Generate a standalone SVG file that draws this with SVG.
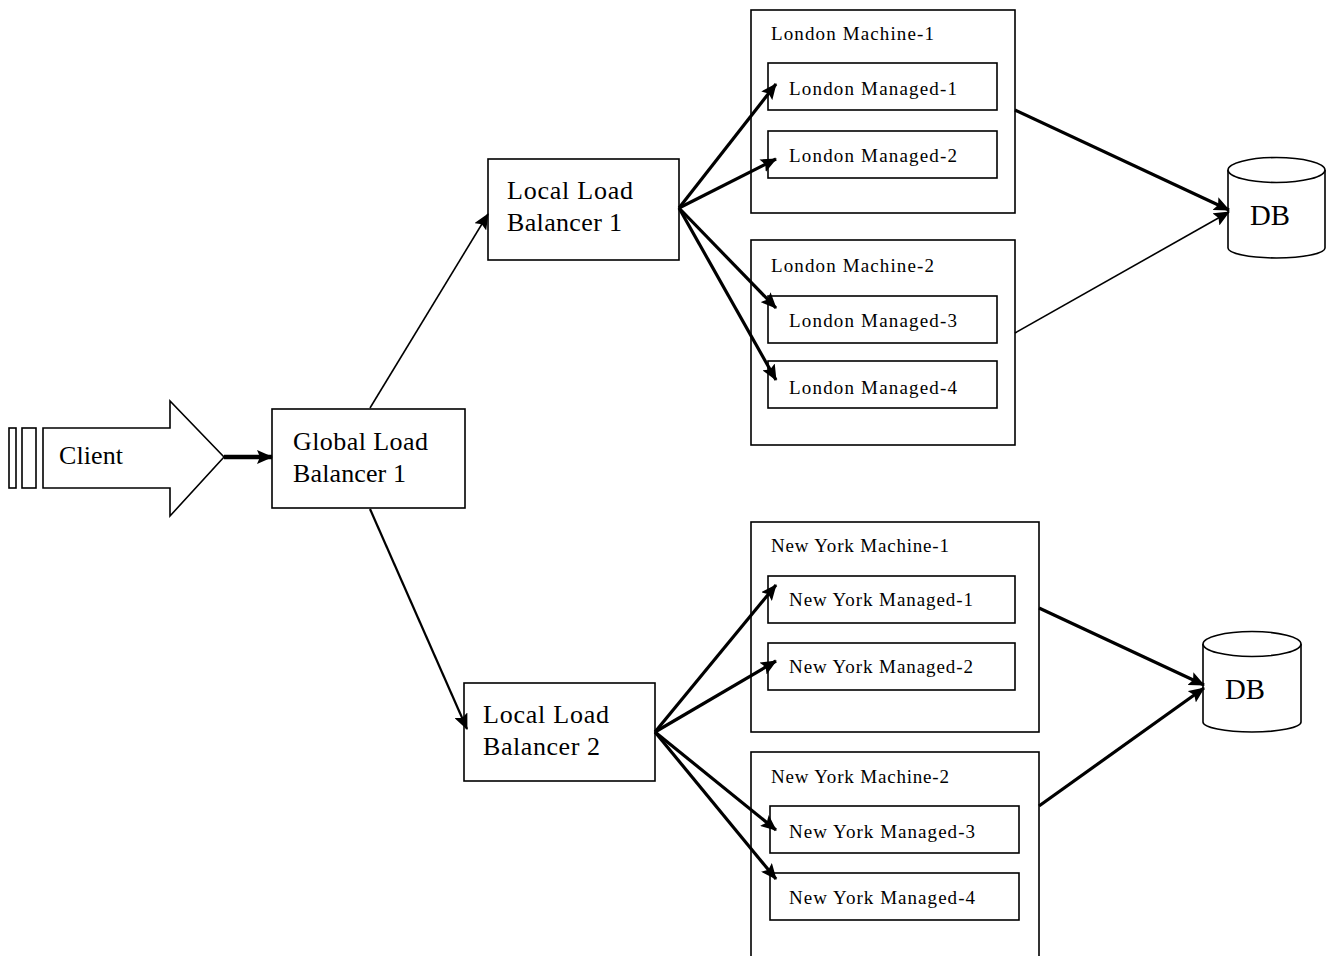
<svg xmlns="http://www.w3.org/2000/svg" width="1328" height="956" viewBox="0 0 1328 956">
<style>
.box{fill:#fff;stroke:#000;stroke-width:1.6}
.big{font-family:"Liberation Serif",serif;font-size:26px;fill:#000}
.db{font-family:"Liberation Serif",serif;font-size:29px;fill:#000}
.sm{font-family:"Liberation Serif",serif;font-size:19px;fill:#000}
.c1{stroke:#000;stroke-width:1.6;fill:none}
.c2{stroke:#000;stroke-width:2.2;fill:none}
.c3{stroke:#000;stroke-width:3.2;fill:none}
.c4{stroke:#000;stroke-width:4.5;fill:none}
</style>
<defs>
<marker id="ah" markerUnits="userSpaceOnUse" markerWidth="16" markerHeight="14" viewBox="0 0 16 14" refX="15" refY="7" orient="auto">
<path d="M0,0 L16,7 L0,14 L3,7 Z" fill="#000"/>
</marker>
</defs>
<rect width="1328" height="956" fill="#fff"/>
<g id="client">
<rect class="box" x="9" y="428" width="7" height="60"/>
<rect class="box" x="22" y="428" width="14" height="60"/>
<polygon class="box" points="43,428 170,428 170,401 224,457 170,516 170,488 43,488"/>
<text class="big" x="59" y="464" textLength="64" lengthAdjust="spacing">Client</text>
</g>
<g id="glb">
<rect class="box" x="272" y="409" width="193" height="99"/>
<text class="big" x="293" y="450" textLength="135" lengthAdjust="spacing">Global Load</text>
<text class="big" x="293" y="482" textLength="113" lengthAdjust="spacing">Balancer 1</text>
</g>
<g id="llb1">
<rect class="box" x="488" y="159" width="191" height="101"/>
<text class="big" x="507" y="199" textLength="126" lengthAdjust="spacing">Local Load</text>
<text class="big" x="507" y="231" textLength="115" lengthAdjust="spacing">Balancer 1</text>
</g>
<g id="llb2">
<rect class="box" x="464" y="683" width="191" height="98"/>
<text class="big" x="483" y="723" textLength="126" lengthAdjust="spacing">Local Load</text>
<text class="big" x="483" y="755" textLength="117" lengthAdjust="spacing">Balancer 2</text>
</g>
<g id="london-machine-1">
<rect class="box" x="751" y="10" width="264" height="203"/>
<text class="sm" x="771" y="40" textLength="163" lengthAdjust="spacing">London Machine-1</text>
</g>
<g id="london-managed-1">
<rect class="box" x="768" y="63" width="229" height="47"/>
<text class="sm" x="789" y="95" textLength="168" lengthAdjust="spacing">London Managed-1</text>
</g>
<g id="london-managed-2">
<rect class="box" x="768" y="131" width="229" height="47"/>
<text class="sm" x="789" y="162" textLength="168" lengthAdjust="spacing">London Managed-2</text>
</g>
<g id="london-machine-2">
<rect class="box" x="751" y="240" width="264" height="205"/>
<text class="sm" x="771" y="272" textLength="163" lengthAdjust="spacing">London Machine-2</text>
</g>
<g id="london-managed-3">
<rect class="box" x="768" y="296" width="229" height="47"/>
<text class="sm" x="789" y="327" textLength="168" lengthAdjust="spacing">London Managed-3</text>
</g>
<g id="london-managed-4">
<rect class="box" x="768" y="361" width="229" height="47"/>
<text class="sm" x="789" y="394" textLength="168" lengthAdjust="spacing">London Managed-4</text>
</g>
<g id="ny-machine-1">
<rect class="box" x="751" y="522" width="288" height="210"/>
<text class="sm" x="771" y="552" textLength="178" lengthAdjust="spacing">New York Machine-1</text>
</g>
<g id="ny-managed-1">
<rect class="box" x="768" y="576" width="247" height="47"/>
<text class="sm" x="789" y="606" textLength="184" lengthAdjust="spacing">New York Managed-1</text>
</g>
<g id="ny-managed-2">
<rect class="box" x="768" y="643" width="247" height="47"/>
<text class="sm" x="789" y="673" textLength="184" lengthAdjust="spacing">New York Managed-2</text>
</g>
<g id="ny-machine-2">
<rect class="box" x="751" y="752" width="288" height="210"/>
<text class="sm" x="771" y="783" textLength="178" lengthAdjust="spacing">New York Machine-2</text>
</g>
<g id="ny-managed-3">
<rect class="box" x="770" y="806" width="249" height="47"/>
<text class="sm" x="789" y="838" textLength="186" lengthAdjust="spacing">New York Managed-3</text>
</g>
<g id="ny-managed-4">
<rect class="box" x="770" y="873" width="249" height="47"/>
<text class="sm" x="789" y="904" textLength="186" lengthAdjust="spacing">New York Managed-4</text>
</g>
<g id="db1">
<path class="box" d="M1228,170 L1228,248 A48.5,10 0 0 0 1325,248 L1325,170"/>
<ellipse class="box" cx="1276.5" cy="170" rx="48.5" ry="12.5"/>
<text class="db" x="1250" y="225" textLength="40" lengthAdjust="spacingAndGlyphs">DB</text>
</g>
<g id="db2">
<path class="box" d="M1203,644 L1203,722 A49,10 0 0 0 1301,722 L1301,644"/>
<ellipse class="box" cx="1252" cy="644" rx="49" ry="12.5"/>
<text class="db" x="1225" y="699" textLength="40" lengthAdjust="spacingAndGlyphs">DB</text>
</g>
<g id="connectors">
<line class="c4" x1="224" y1="457" x2="272" y2="457" marker-end="url(#ah)"/>
<line class="c1" x1="370" y1="408" x2="488" y2="214" marker-end="url(#ah)"/>
<line class="c2" x1="370" y1="509" x2="467" y2="729" marker-end="url(#ah)"/>
<line class="c3" x1="679" y1="208" x2="776" y2="84" marker-end="url(#ah)"/>
<line class="c3" x1="679" y1="208" x2="776" y2="159" marker-end="url(#ah)"/>
<line class="c3" x1="679" y1="208" x2="776" y2="308" marker-end="url(#ah)"/>
<line class="c3" x1="679" y1="208" x2="776" y2="380" marker-end="url(#ah)"/>
<line class="c3" x1="655" y1="732" x2="776" y2="585" marker-end="url(#ah)"/>
<line class="c3" x1="655" y1="732" x2="776" y2="661" marker-end="url(#ah)"/>
<line class="c3" x1="655" y1="732" x2="776" y2="830" marker-end="url(#ah)"/>
<line class="c3" x1="655" y1="732" x2="776" y2="879" marker-end="url(#ah)"/>
<line class="c3" x1="1015" y1="110" x2="1229" y2="210" marker-end="url(#ah)"/>
<line class="c1" x1="1015" y1="333" x2="1229" y2="212" marker-end="url(#ah)"/>
<line class="c3" x1="1039" y1="608" x2="1204" y2="685" marker-end="url(#ah)"/>
<line class="c3" x1="1039" y1="806" x2="1204" y2="688" marker-end="url(#ah)"/>
</g>
</svg>
